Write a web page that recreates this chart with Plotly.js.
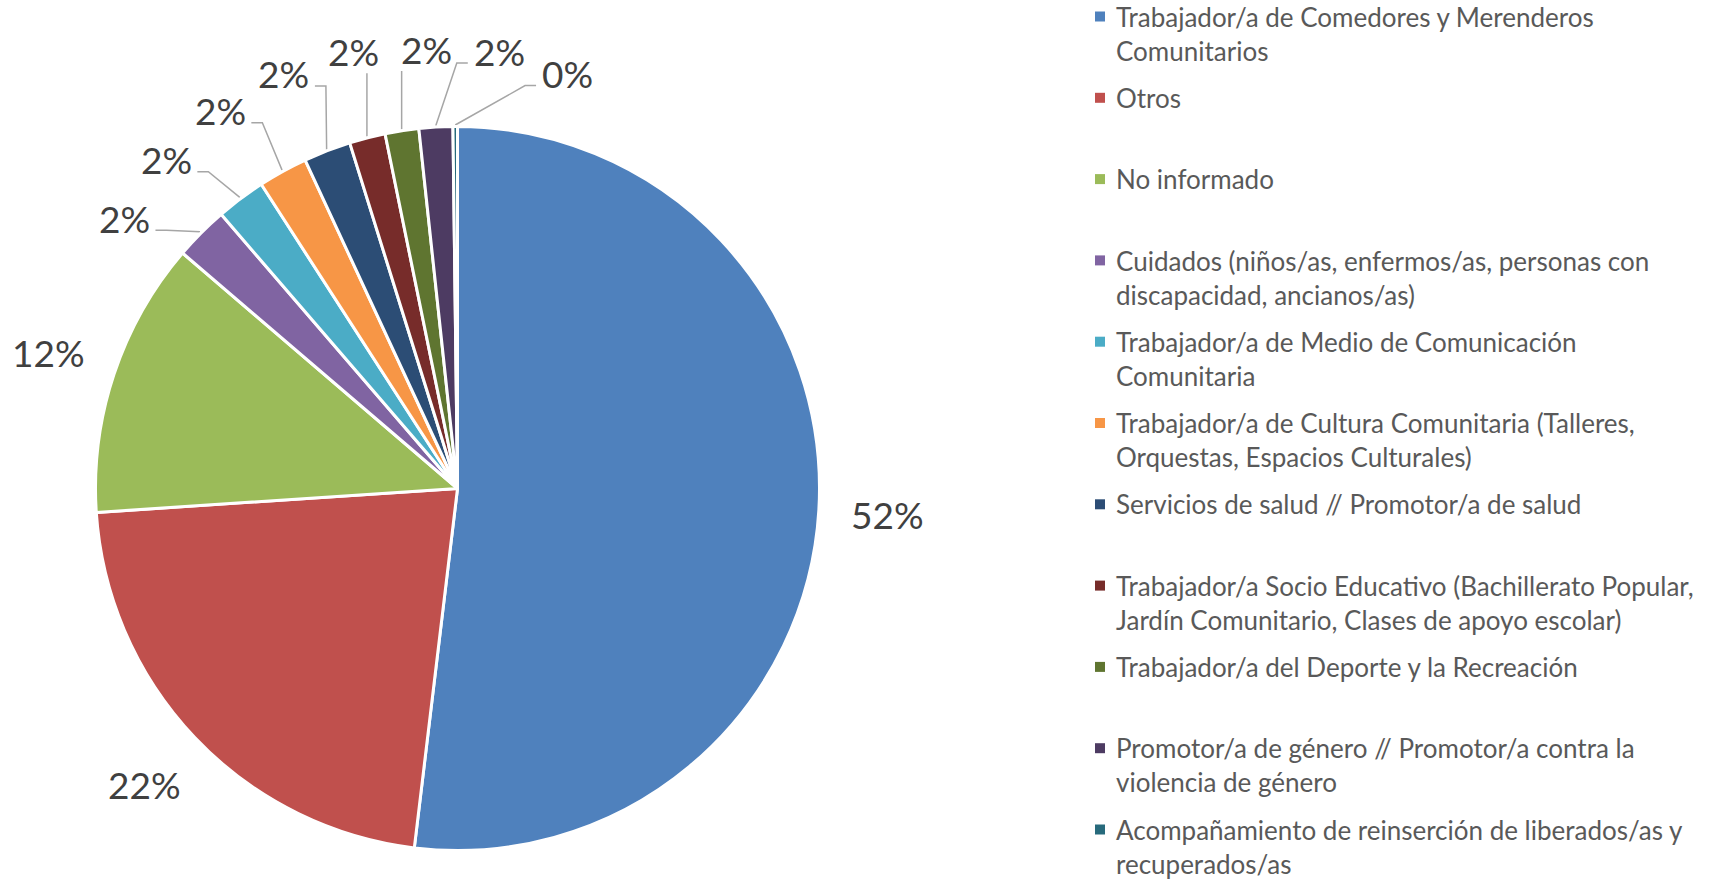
<!DOCTYPE html>
<html>
<head>
<meta charset="utf-8">
<script src="https://cdn.plot.ly/plotly-3.0.1.min.js"></script>
<style>html,body{margin:0;padding:0;background:#fff;}#chart{width:1724px;height:882px;}</style>
</head>
<body>
<div id="chart"></div>
<script>
// ---- data ----
const categories = [
  "Trabajador/a de Comedores y Merenderos<br>Comunitarios",
  "Otros",
  "No informado",
  "Cuidados (niños/as, enfermos/as, personas con<br>discapacidad, ancianos/as)",
  "Trabajador/a de Medio de Comunicación<br>Comunitaria",
  "Trabajador/a de Cultura Comunitaria (Talleres,<br>Orquestas, Espacios Culturales)",
  "Servicios de salud // Promotor/a de salud",
  "Trabajador/a Socio Educativo (Bachillerato Popular,<br>Jardín Comunitario, Clases de apoyo escolar)",
  "Trabajador/a del Deporte y la Recreación",
  "Promotor/a de género // Promotor/a contra la<br>violencia de género",
  "Acompañamiento de reinserción de liberados/as y<br>recuperados/as"
];
const values = [51.8, 22.0, 12.3, 2.4, 2.2, 2.2, 2.1, 1.6, 1.5, 1.5, 0.2];
const colors = ["#4F81BD","#C0504D","#9BBB59","#8064A2","#4BACC6","#F79646","#2C4D75","#772C2A","#5F7530","#4D3B62","#276A7C"];

// ---- layout constants (pixels) ----
const W = 1724, H = 882;
const cx = 457.5, cy = 488.5, R = 362;
const labelFont = 37, labelColor = "#404040";
const leaderColor = "#A6A6A6";
const labelTopLimit = 49;
const labelRotate = 1.8;     // degrees: shift of the spread label cluster
const gapDeg = 9.4;          // angular spacing of spread labels
// legend geometry
const legMarkX = 1100, legTextX = 1114, legFirstY = 16.5, legPitch = 81.3;
const legFont = 26, legColor = "#595959";

const total = values.reduce((a, b) => a + b, 0);
const mids = [];
let acc = 0;
values.forEach(v => { mids.push((acc + v / 2) / total * 360); acc += v; });
const pct = values.map(v => Math.round(v / total * 100) + "%");

function pt(theta, rad) {
  const t = theta * Math.PI / 180;
  return [cx + rad * Math.sin(t), cy - rad * Math.cos(t)];
}

// spread small labels in angle space
const smallIdx = values.map((v, i) => i).filter(i => values[i] / total < 0.05);
const ang = smallIdx.map(i => mids[i]);
for (let it = 0; it < 400; it++) {
  for (let k = 0; k < ang.length - 1; k++) {
    const d = ang[k + 1] - ang[k];
    if (d < gapDeg) { const s = (gapDeg - d) / 2; ang[k] -= s; ang[k + 1] += s; }
  }
}
const angCenter = (ang[0] + ang[ang.length - 1]) / 2;

const annotations = [];
const lx = [], ly = [];
values.forEach((v, i) => {
  const k = smallIdx.indexOf(i);
  let p;
  if (k < 0) {
    p = pt(mids[i], R * 1.19);
  } else {
    const d = ang[k] - angCenter;
    p = pt(ang[k] + labelRotate, R * (1.243 - 5.3e-5 * d * d));
    p[1] = Math.max(p[1], labelTopLimit);
    // leader line
    const e = pt(mids[i], R + 1.5);
    const hw = pct[i].length * 0.685 * labelFont / 2;
    const g = 6, elbow = 11, ay = p[1] + 12;
    if (e[0] > p[0] + hw + g) {
      const ax = p[0] + hw + g;
      lx.push(ax, Math.min(ax + elbow, e[0]), e[0], null);
      ly.push(ay, ay, e[1], null);
    } else if (e[0] < p[0] - hw - g) {
      const ax = p[0] - hw - g;
      lx.push(ax, Math.max(ax - elbow, e[0]), e[0], null);
      ly.push(ay, ay, e[1], null);
    } else {
      lx.push(e[0], e[0], null);
      ly.push(p[1] + 22, e[1], null);
    }
  }
  annotations.push({
    x: p[0], y: p[1], xref: "x", yref: "y", text: pct[i], showarrow: false,
    xanchor: "center", yanchor: "middle",
    font: { family: "Lato, sans-serif", size: labelFont, color: labelColor }
  });
});

// legend (text + square keys)
const legY = categories.map((c, i) => legFirstY + i * legPitch);
categories.forEach((c, i) => {
  annotations.push({
    x: legTextX, y: 1 - (legY[i] - legFont * 0.65 - 1) / H, xref: "x", yref: "paper",
    text: c, showarrow: false, xanchor: "left", yanchor: "top", align: "left",
    font: { family: "Lato, sans-serif", size: legFont, color: legColor }
  });
});

const traces = [];
traces.push({
  type: "scatter", mode: "lines", x: lx, y: ly, showlegend: false, hoverinfo: "skip",
  line: { color: leaderColor, width: 1.5 }
});
traces.push({
  type: "scatter", mode: "markers", x: categories.map(() => legMarkX), y: legY,
  showlegend: false, hoverinfo: "skip",
  marker: { symbol: "square", size: 10, color: colors }
});
traces.push({
  type: "pie",
  values: values,
  labels: categories.map(c => c.replace(/<br>/g, " ")),
  marker: { colors: colors, line: { color: "#FFFFFF", width: 3 } },
  sort: false, direction: "clockwise", rotation: 0,
  textinfo: "none", hoverinfo: "label+percent",
  showlegend: false,
  domain: { x: [(cx - R) / W, (cx + R) / W], y: [(H - cy - R) / H, (H - cy + R) / H] }
});

const layout = {
  width: W, height: H,
  margin: { l: 0, r: 0, t: 0, b: 0 },
  paper_bgcolor: "#FFFFFF", plot_bgcolor: "#FFFFFF",
  xaxis: { range: [0, W], visible: false, fixedrange: true },
  yaxis: { range: [H, 0], visible: false, fixedrange: true },
  showlegend: false,
  annotations: annotations
};

Plotly.newPlot("chart", traces, layout, { displayModeBar: false, staticPlot: true });
</script>
</body>
</html>
